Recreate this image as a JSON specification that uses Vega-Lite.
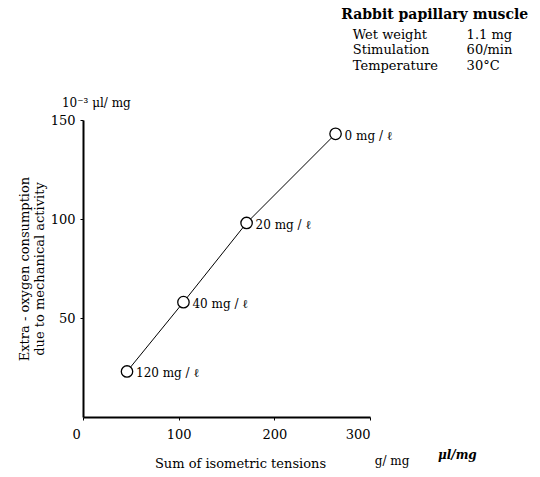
{
  "$schema": "https://vega.github.io/schema/vega-lite/v6.json",
  "width": 287,
  "height": 297,
  "autosize": {"type": "none"},
  "padding": {"left": 83, "top": 120, "right": 170, "bottom": 60},
  "background": "white",
  "config": {
    "view": {"stroke": null},
    "font": "DejaVu Serif",
    "axis": {
      "domainColor": "black", "domainWidth": 2, "tickColor": "black", "tickSize": 3,
      "labelColor": "black", "labelFont": "DejaVu Serif", "labelFontSize": 13,
      "titleColor": "black", "titleFont": "DejaVu Serif", "titleFontSize": 13, "titleFontWeight": "normal",
      "grid": false
    }
  },
  "data": {
    "values": [
      {"tension": 46, "oxygen": 23, "conc": "120 mg / ℓ"},
      {"tension": 105, "oxygen": 58, "conc": "40 mg / ℓ"},
      {"tension": 171, "oxygen": 98, "conc": "20 mg / ℓ"},
      {"tension": 264, "oxygen": 143, "conc": "0 mg / ℓ"}
    ]
  },
  "layer": [
    {
      "mark": {"type": "line", "color": "black", "strokeWidth": 1},
      "encoding": {
        "x": {
          "field": "tension", "type": "quantitative",
          "scale": {"domain": [0, 300], "nice": false},
          "axis": {
            "values": [0, 100, 200, 300],
            "title": "Sum of isometric tensions",
            "labelPadding": 8,
            "labelOffset": {"condition": {"test": "datum.value == 0", "value": -11}, "value": 0},
            "titlePadding": 16,
            "titleX": 157
          }
        },
        "y": {
          "field": "oxygen", "type": "quantitative",
          "scale": {"domain": [0, 150], "nice": false},
          "axis": {
            "values": [50, 100, 150],
            "title": ["Extra - oxygen consumption", "due to mechanical activity"],
            "labelPadding": 5,
            "titlePadding": 4
          }
        }
      }
    },
    {
      "mark": {"type": "point", "shape": "circle", "filled": true, "fill": "white", "stroke": "black", "strokeWidth": 1.3, "size": 130, "opacity": 1},
      "encoding": {
        "x": {"field": "tension", "type": "quantitative"},
        "y": {"field": "oxygen", "type": "quantitative"}
      }
    },
    {
      "mark": {"type": "text", "align": "left", "baseline": "middle", "dx": 9, "dy": 2, "fontSize": 12, "color": "black"},
      "encoding": {
        "x": {"field": "tension", "type": "quantitative"},
        "y": {"field": "oxygen", "type": "quantitative"},
        "text": {"field": "conc"}
      }
    },
    {
      "data": {"values": [{"note": "10⁻³ μl/ mg"}]},
      "mark": {"type": "text", "align": "left", "baseline": "middle", "fontSize": 12, "color": "black"},
      "encoding": {
        "x": {"datum": -22},
        "y": {"datum": 158.5},
        "text": {"field": "note"}
      }
    },
    {
      "data": {"values": [{"note": "Rabbit papillary muscle"}]},
      "mark": {"type": "text", "align": "left", "baseline": "middle", "fontSize": 14, "fontWeight": "bold", "color": "black"},
      "encoding": {
        "x": {"datum": 270},
        "y": {"datum": 203},
        "text": {"field": "note"}
      }
    },
    {
      "data": {
        "values": [
          {"param": "Wet weight", "value": "1.1 mg", "row": 193},
          {"param": "Stimulation", "value": "60/min", "row": 185.4},
          {"param": "Temperature", "value": "30°C", "row": 177.3}
        ]
      },
      "layer": [
        {
          "mark": {"type": "text", "align": "left", "baseline": "middle", "fontSize": 13, "color": "black"},
          "encoding": {
            "x": {"datum": 282},
            "y": {"field": "row", "type": "quantitative"},
            "text": {"field": "param"}
          }
        },
        {
          "mark": {"type": "text", "align": "left", "baseline": "middle", "fontSize": 13, "color": "black"},
          "encoding": {
            "x": {"datum": 401},
            "y": {"field": "row", "type": "quantitative"},
            "text": {"field": "value"}
          }
        }
      ]
    },
    {
      "data": {"values": [{"note": "g/ mg"}]},
      "mark": {"type": "text", "align": "left", "baseline": "middle", "fontSize": 12, "color": "black"},
      "encoding": {
        "x": {"datum": 305},
        "y": {"datum": -22},
        "text": {"field": "note"}
      }
    },
    {
      "data": {"values": [{"note": "μl/mg"}]},
      "mark": {"type": "text", "align": "left", "baseline": "middle", "fontSize": 12, "fontStyle": "italic", "fontWeight": "bold", "color": "black"},
      "encoding": {
        "x": {"datum": 371},
        "y": {"datum": -19},
        "text": {"field": "note"}
      }
    }
  ]
}
